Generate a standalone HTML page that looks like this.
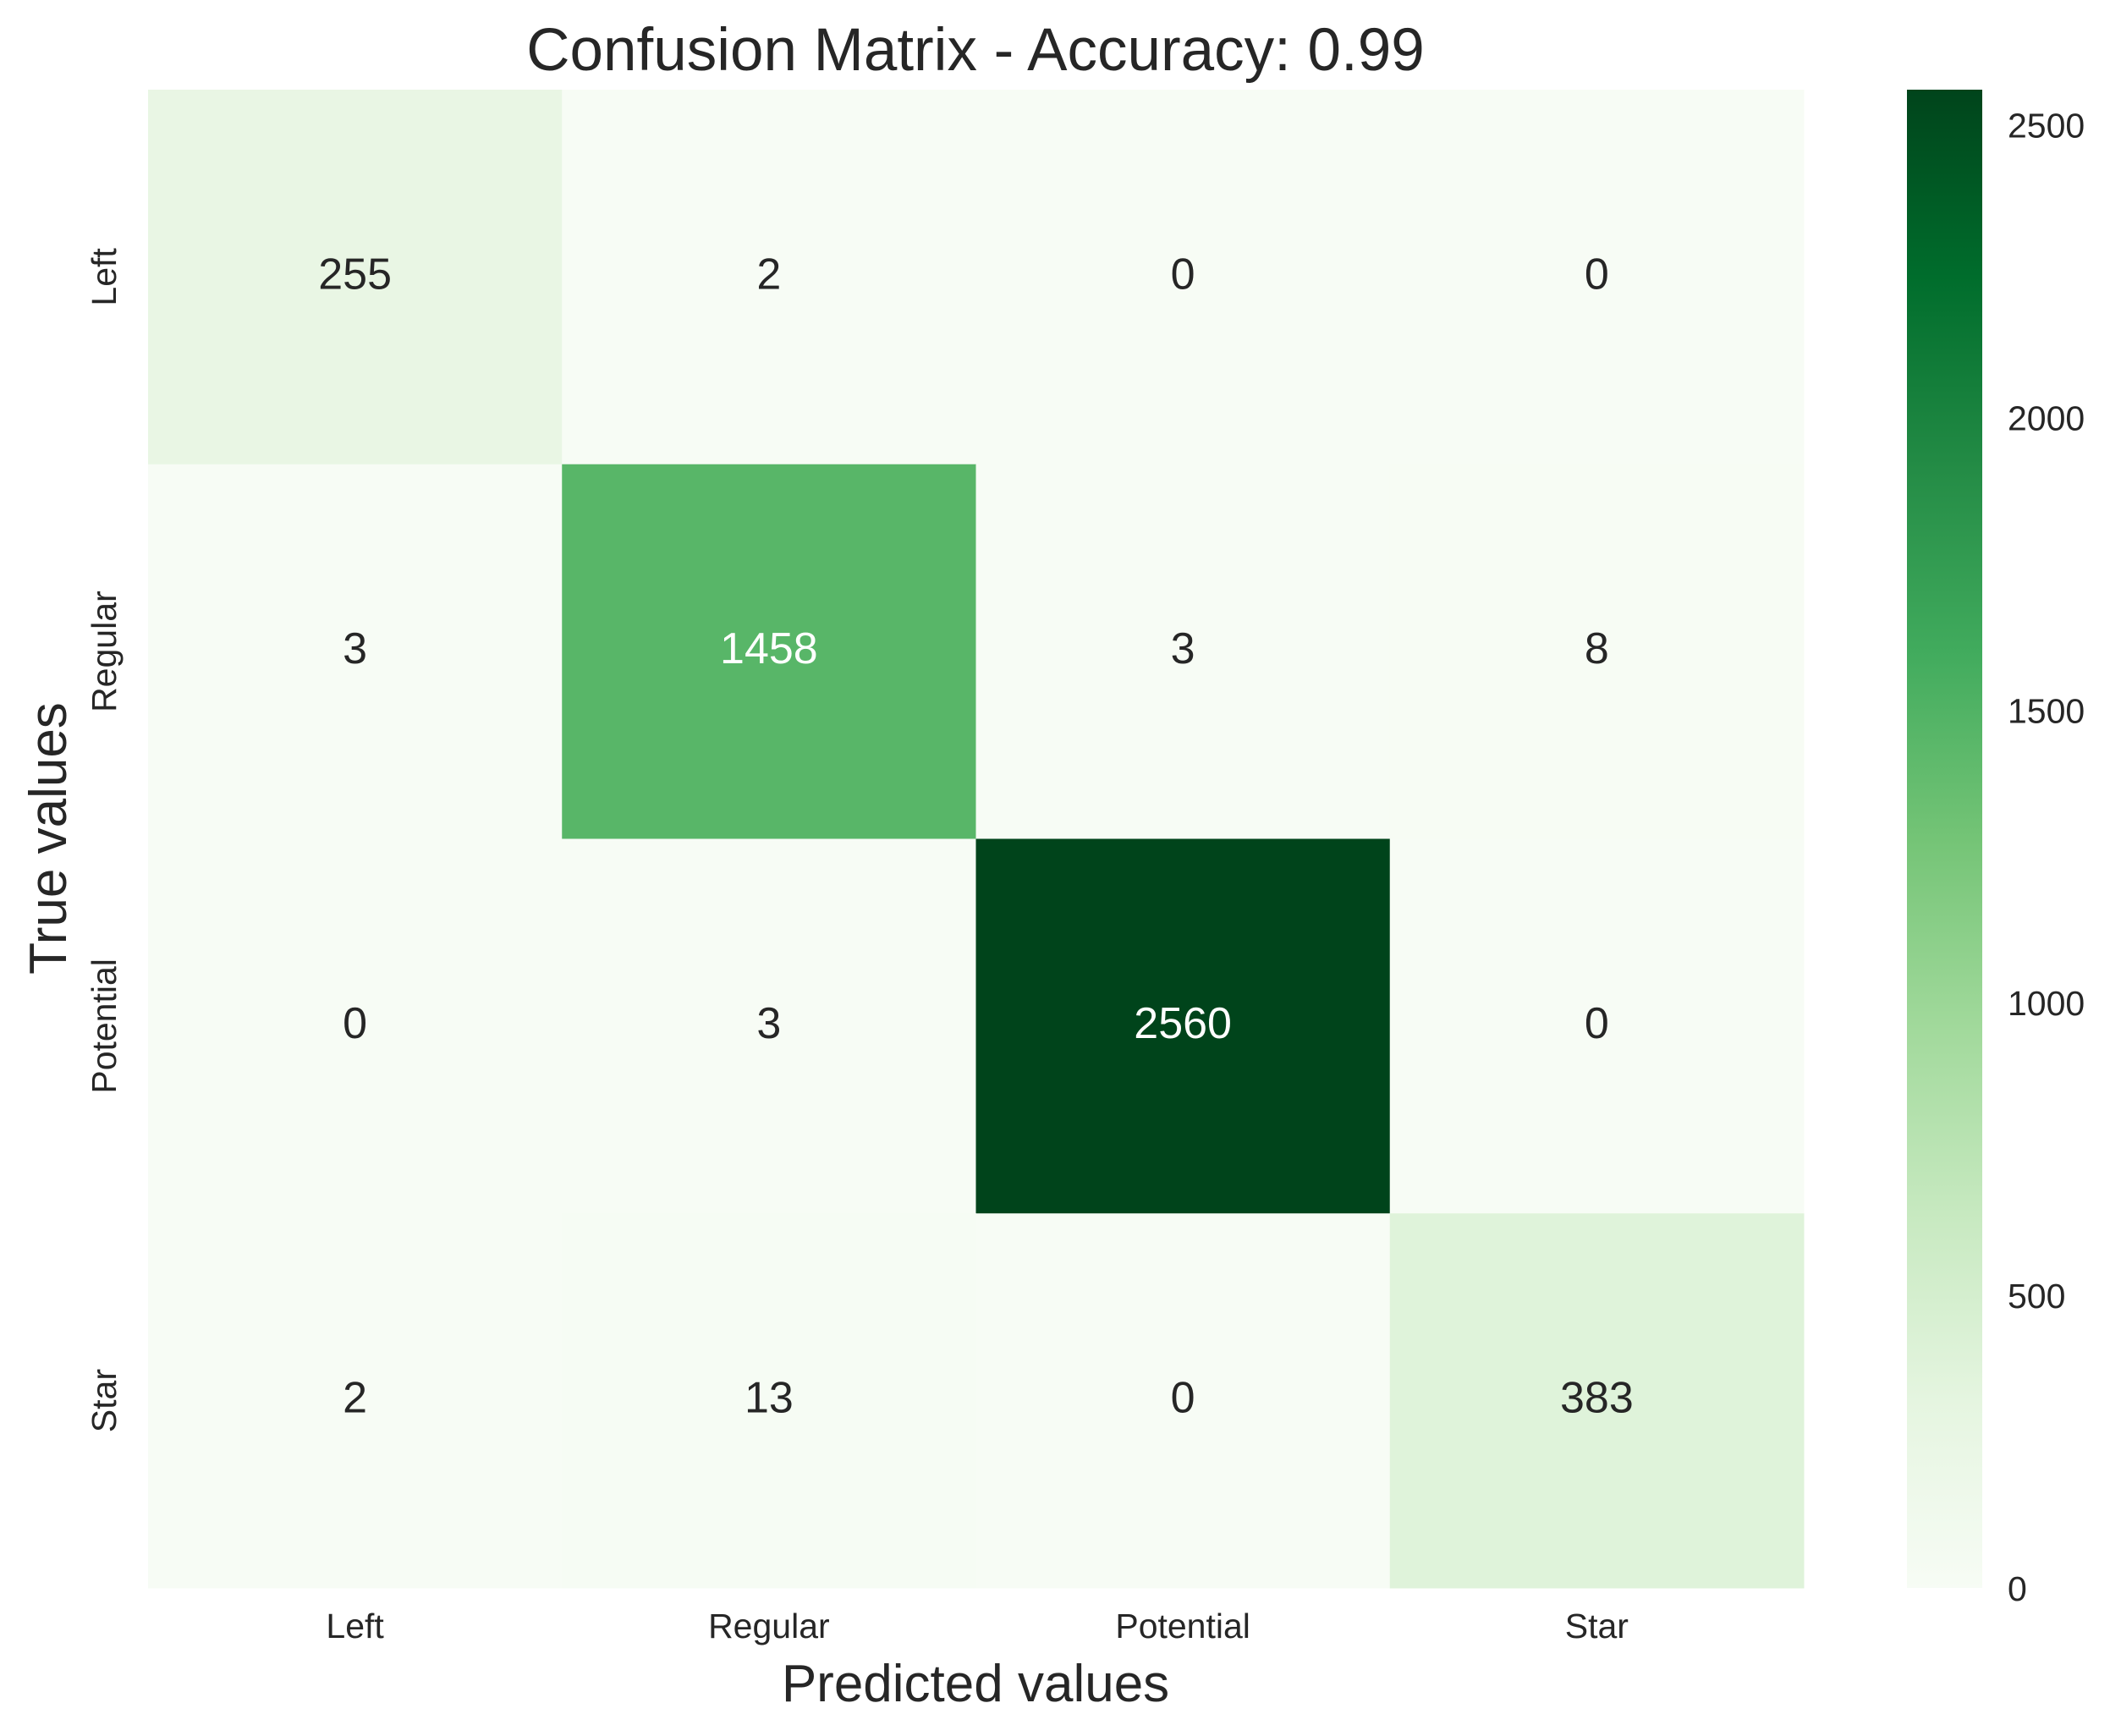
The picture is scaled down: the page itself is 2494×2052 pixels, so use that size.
<!DOCTYPE html>
<html><head><meta charset="utf-8"><style>
html,body{margin:0;padding:0;background:#fff;}
svg{display:block;font-family:"Liberation Sans",Arial,sans-serif;}
</style></head><body>
<svg id="chart" width="2494" height="2052" viewBox="0 0 2494 2052" xmlns="http://www.w3.org/2000/svg">
<defs><linearGradient id="cbgrad" x1="0" y1="1" x2="0" y2="0"></linearGradient></defs>
<text x="1153" y="83" font-size="71" fill="#262626" text-anchor="middle">Confusion Matrix - Accuracy: 0.99</text>
<g id="cells"></g>
<g id="ticks"></g>
<rect x="2254" y="106" width="89" height="1771" fill="url(#cbgrad)"/>
<g id="cbticks"></g>
<text x="1153" y="2011" font-size="62" fill="#262626" text-anchor="middle">Predicted values</text>
<text transform="translate(78,991) rotate(-90)" font-size="62" fill="#262626" text-anchor="middle">True values</text>
</svg>
<script>
const categories = ["Left","Regular","Potential","Star"];
const matrix = [
  [255, 2, 0, 0],
  [3, 1458, 3, 8],
  [0, 3, 2560, 0],
  [2, 13, 0, 383]
];
const cbTicks = [0, 500, 1000, 1500, 2000, 2500];
const vmin = 0, vmax = 2560;

const X0 = 175, X1 = 2132, Y0 = 106, Y1 = 1877;
const CBY0 = 106, CBY1 = 1877;
const NS = "http://www.w3.org/2000/svg";
const greens = ["#f7fcf5","#e5f5e0","#c7e9c0","#a1d99b","#74c476","#41ab5d","#238b45","#006d2c","#00441b"];
function hex(h){return [1,3,5].map(i=>parseInt(h.substr(i,2),16));}
function color(v){
  let t=Math.max(0,Math.min(1,(v-vmin)/(vmax-vmin)))*(greens.length-1);
  let i=Math.min(Math.floor(t),greens.length-2), f=t-i;
  const a=hex(greens[i]), b=hex(greens[i+1]);
  const c=a.map((x,k)=>Math.round(x+(b[k]-x)*f));
  return {css:`rgb(${c[0]},${c[1]},${c[2]})`, rgb:c};
}
function lum(c){const l=c.map(x=>{x/=255;return x<=0.03928?x/12.92:Math.pow((x+0.055)/1.055,2.4);});return 0.2126*l[0]+0.7152*l[1]+0.0722*l[2];}
const n = categories.length;
const cw = (X1-X0)/n, ch = (Y1-Y0)/n;
function xPos(j){return X0+j*cw;}
function yPos(i){return Y0+i*ch;}
function cbY(v){return CBY1-(v-vmin)/(vmax-vmin)*(CBY1-CBY0);}

const cells=document.getElementById('cells');
matrix.forEach((row,i)=>row.forEach((v,j)=>{
  const col=color(v);
  const r=document.createElementNS(NS,'rect');
  r.setAttribute('x',xPos(j));r.setAttribute('y',yPos(i));
  r.setAttribute('width',cw+0.5);r.setAttribute('height',ch+0.5);
  r.setAttribute('fill',col.css);
  
  
  cells.appendChild(r);
  const t=document.createElementNS(NS,'text');
  t.setAttribute('x',xPos(j)+cw/2);t.setAttribute('y',yPos(i)+ch/2+14);
  t.setAttribute('text-anchor','middle');t.setAttribute('font-size','52');
  t.setAttribute('fill',lum(col.rgb)<0.408?'#ffffff':'#262626');
  t.textContent=v;
  
  
  cells.appendChild(t);
}));

const ticks=document.getElementById('ticks');
categories.forEach((c,k)=>{
  const t=document.createElementNS(NS,'text');
  t.setAttribute('x',xPos(k)+cw/2);t.setAttribute('y',1936);
  t.setAttribute('text-anchor','middle');t.setAttribute('font-size','41');t.setAttribute('fill','#262626');
  t.textContent=c;
  
  
  ticks.appendChild(t);
  const u=document.createElementNS(NS,'text');
  u.setAttribute('transform',`translate(137,${yPos(k)+ch/2}) rotate(-90)`);
  u.setAttribute('text-anchor','middle');u.setAttribute('font-size','41');u.setAttribute('fill','#262626');
  u.textContent=c;
  
  
  ticks.appendChild(u);
});

const grad=document.getElementById('cbgrad');
greens.forEach((g,k)=>{
  const s=document.createElementNS(NS,'stop');
  s.setAttribute('offset',k/(greens.length-1));s.setAttribute('stop-color',g);
  grad.appendChild(s);
});
const cbt=document.getElementById('cbticks');
cbTicks.forEach(v=>{
  const t=document.createElementNS(NS,'text');
  t.setAttribute('x',2373);t.setAttribute('y',cbY(v)+15);
  t.setAttribute('font-size','41');t.setAttribute('fill','#262626');
  t.textContent=v;
  
  
  cbt.appendChild(t);
});
</script>
</body></html>
